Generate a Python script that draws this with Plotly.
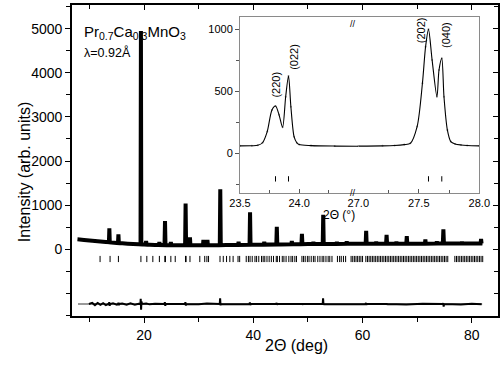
import plotly.graph_objects as go

# ---------------- data ----------------
# observed pattern, main panel (2theta in deg, intensity)
obs_x = [7.8, 9, 10, 11, 12, 13, 13.56, 13.64, 13.72, 14, 15, 15.22, 15.3, 15.38, 16, 17, 18, 19, 19.35, 19.42, 19.49,
         20, 20.29, 20.37, 20.45, 21, 22, 22.72, 22.8, 22.88, 23.74, 23.83, 23.92, 24, 24.82, 24.9, 24.98, 26, 27.51,
         27.6, 27.69, 28.32, 28.4, 28.48, 30, 30.78, 30.86, 30.94, 31.52, 31.6, 31.68, 33.86, 33.95, 34.04, 35, 37.22,
         37.3, 37.38, 39.31, 39.4, 39.49, 40, 41.92, 42.0, 42.08, 44.21, 44.3, 44.39, 45, 46.97, 47.05, 47.13, 48.81,
         48.9, 48.99, 50, 50.92, 51.0, 51.08, 52.71, 52.8, 52.89, 55, 55.22, 55.3, 55.38, 57.02, 57.1, 57.18, 60, 60.57,
         60.66, 60.75, 62.42, 62.5, 62.58, 64.31, 64.4, 64.49, 66.12, 66.2, 66.28, 68.01, 68.1, 68.19, 69.92, 70.0,
         70.08, 71.42, 71.5, 71.58, 73.52, 73.6, 73.68, 74.7, 74.8, 74.9, 76.42, 76.5, 76.58, 78.12, 78.2, 78.28,
         79.92, 80.0, 80.08, 81.61, 81.7, 81.79, 81.9]
obs_y = [225, 212, 200, 188, 176, 165, 160, 476, 158, 155, 145, 143, 340, 141, 136, 128, 120, 113, 111, 4950, 110,
         107, 105, 190, 104, 102, 98, 97, 165, 97, 95, 640, 94, 94, 93, 165, 93, 91, 90,
         1040, 90, 90, 270, 90, 90, 90, 210, 91, 91, 210, 91, 93, 1360, 94, 95, 99,
         170, 100, 102, 840, 102, 102, 106, 170, 106, 110, 510, 110, 110, 113, 190, 113, 115,
         350, 115, 118, 118, 170, 118, 120, 780, 120, 122, 122, 170, 122, 123, 180, 123, 125, 125,
         420, 125, 126, 170, 126, 127, 325, 127, 127, 170, 127, 128, 300, 128, 128, 160,
         128, 128, 225, 128, 129, 180, 129, 129, 450, 129, 129, 160, 129, 130, 170, 130,
         130, 160, 130, 130, 235, 130, 130]

# difference curve (obs - calc, offset)
diff_offset = -1240
diff_x = [9.9, 10.5, 11, 11.5, 12, 12.5, 13, 13.55, 13.62, 13.7, 13.8, 14.3, 15, 15.25, 15.3, 15.38, 15.45, 16, 16.8,
          17.5, 18.3, 19.0, 19.33, 19.38, 19.45, 19.52, 19.6, 20.4, 21, 22, 23.75, 23.8, 23.88, 23.95, 27.5, 27.56,
          27.65, 27.72, 30, 31.5, 33.85, 33.92, 34.0, 34.07, 37, 39.3, 39.37, 39.45, 39.52, 44.2, 44.27, 44.35, 44.42,
          48.85, 48.9, 48.97, 49.05, 52.7, 52.77, 52.85, 52.93, 56, 60.55, 60.62, 60.7, 60.77, 64.35, 64.4, 64.47,
          64.55, 68, 71, 74.7, 74.77, 74.85, 74.93, 78, 80, 81.8]
diff_y = [-1240, -1215, -1265, -1215, -1260, -1220, -1265, -1235, -1200, -1280, -1240, -1225, -1255, -1240, -1210,
          -1270, -1240, -1230, -1255, -1225, -1255, -1235, -1240, -1120, -1370, -1180, -1240, -1230, -1248, -1235,
          -1240, -1200, -1280, -1240, -1240, -1200, -1275, -1240, -1245, -1230, -1240, -1110, -1270, -1240, -1245,
          -1240, -1205, -1265, -1240, -1240, -1215, -1260, -1240, -1240, -1222, -1255, -1240, -1240, -1110, -1260,
          -1240, -1245, -1240, -1215, -1260, -1240, -1240, -1225, -1255, -1240, -1250, -1235, -1240, -1220, -1300,
          -1240, -1250, -1235, -1245]
diff_range = [7.9, 81.9]

# Bragg reflection positions
bragg_pos = [11.94, 13.77, 15.3, 19.42, 20.5, 21.6, 22.8, 23.8, 23.91, 24.9, 25.7, 27.58, 27.69, 28.4, 30.2, 31.1,
             31.5, 31.8, 33.9, 34.5, 35.1, 35.7, 36.3, 37.2, 37.5, 38.7, 39.1, 39.4, 39.8, 40.3, 40.6, 41.0, 41.5,
             41.8, 42.1, 42.5, 42.9, 43.3, 43.7, 44.2, 44.4, 44.8, 45.3, 45.6, 46.0, 46.5, 46.9, 47.2, 47.6, 47.9,
             48.9, 49.2, 49.5, 49.9, 50.2, 50.6, 51.0, 51.3, 51.8, 52.2, 52.6, 52.9, 53.3, 53.7, 54.0, 54.4, 55.4,
             55.8, 56.1, 56.5, 56.9, 57.9, 58.2, 58.5, 58.8, 59.1, 59.4, 59.7, 60.0, 60.6, 60.9, 61.2, 61.5, 61.8,
             62.1, 62.4, 62.7, 63.0, 63.3, 63.6, 63.9, 64.2, 64.5, 64.8, 65.1, 65.4, 65.7, 66.0, 66.3, 66.6, 66.9,
             67.2, 67.5, 67.8, 68.1, 68.4, 68.7, 69.0, 69.3, 69.6, 69.9, 70.2, 70.5, 70.8, 71.1, 71.4, 71.7, 72.0,
             72.3, 72.6, 72.9, 73.2, 73.5, 73.8, 74.1, 74.4, 74.7, 75.0, 75.3, 75.6, 76.9, 77.2, 77.5, 77.8, 78.1,
             78.4, 78.7, 79.0, 79.3, 79.6, 79.9, 80.2, 80.5, 80.8, 81.1, 81.4, 81.7, 82.0]
bragg_span = [-150, -290]

# inset: two 2theta windows
ins1_x = [23.50, 23.60, 23.65, 23.69, 23.73, 23.77, 23.80, 23.83, 23.86, 23.886, 23.91, 23.93, 23.957, 23.98, 24.0,
          24.1, 24.3, 24.5]
ins1_y = [60, 61, 64, 85, 175, 350, 381, 310, 210, 456, 623, 375, 134, 85, 70, 62, 58, 57]
ins2_x = [27.0, 27.2, 27.3, 27.38, 27.43, 27.486, 27.53, 27.556, 27.58, 27.61, 27.65, 27.667, 27.69, 27.708, 27.736,
          27.764, 27.8, 27.85, 27.9, 28.0]
ins2_y = [58, 60, 63, 70, 80, 215, 565, 860, 1000, 752, 456, 672, 766, 456, 188, 94, 75, 67, 63, 60]
ins_bragg = [23.80, 23.91, 27.58, 27.69]
ins_bragg_span = [-185, -228]
ins_labels = ["(220)", "(022)", "(202)", "(040)"]
ins_label_x = [23.805, 23.95, 27.515, 27.72]
ins_label_y = [555, 780, 990, 958]

# axis ticks
main_x_range = [6.8, 84.8]
main_y_range = [-1512, 5537]
main_y_ticks = [0, 1000, 2000, 3000, 4000, 5000]
main_x_ticks = [20, 40, 60, 80]
ins_y_range = [-318, 1102]
ins1_range = [23.5, 24.5]
ins2_range = [27.0, 28.0]

FONT = "Arial, Liberation Sans, sans-serif"

def segs(pos, span):
    xs, ys = [], []
    for p in pos:
        xs += [p, p, None]
        ys += [span[0], span[1], None]
    return xs, ys

fig = go.Figure()

# main panel
bx, by = segs(bragg_pos, bragg_span)
fig.add_trace(go.Scatter(x=bx, y=by, mode="lines", line=dict(color="black", width=1), hoverinfo="skip"))
fig.add_trace(go.Scatter(x=diff_range, y=[diff_offset, diff_offset], mode="lines",
                         line=dict(color="black", width=0.8)))
fig.add_trace(go.Scatter(x=diff_x, y=diff_y, mode="lines", line=dict(color="black", width=2, simplify=False)))
fig.add_trace(go.Scatter(x=obs_x, y=obs_y, mode="lines", line=dict(color="black", width=4, simplify=False)))
# mirror-tick helper axes
fig.add_trace(go.Scatter(x=[None], y=[None], xaxis="x5", yaxis="y", showlegend=False))
fig.add_trace(go.Scatter(x=[None], y=[None], xaxis="x", yaxis="y5", showlegend=False))

# inset
fig.add_trace(go.Scatter(x=ins1_x, y=ins1_y, xaxis="x3", yaxis="y3", mode="markers",
                         marker=dict(color="#999", size=2)))
fig.add_trace(go.Scatter(x=ins1_x, y=ins1_y, xaxis="x3", yaxis="y3", mode="lines",
                         line=dict(color="black", width=1.1, shape="spline", smoothing=0.8)))
fig.add_trace(go.Scatter(x=ins2_x, y=ins2_y, xaxis="x4", yaxis="y4", mode="markers",
                         marker=dict(color="#999", size=2)))
fig.add_trace(go.Scatter(x=ins2_x, y=ins2_y, xaxis="x4", yaxis="y4", mode="lines",
                         line=dict(color="black", width=1.1, shape="spline", smoothing=0.8)))
ib1x, ib1y = segs([p for p in ins_bragg if p < 25], ins_bragg_span)
ib2x, ib2y = segs([p for p in ins_bragg if p > 25], ins_bragg_span)
fig.add_trace(go.Scatter(x=ib1x, y=ib1y, xaxis="x3", yaxis="y3", mode="lines", line=dict(color="black", width=1)))
fig.add_trace(go.Scatter(x=ib2x, y=ib2y, xaxis="x4", yaxis="y4", mode="lines", line=dict(color="black", width=1)))

tickfont = dict(family=FONT, size=14, color="black")
insfont = dict(family=FONT, size=11, color="black")

ins_xdom1 = [0.3944, 0.6721]
ins_xdom2 = [0.6721, 0.9561]
ins_ydom = [0.3965, 0.9624]

fig.update_layout(
    width=501, height=365,
    margin=dict(l=72, r=3, t=5, b=49, autoexpand=False),
    paper_bgcolor="white", plot_bgcolor="white",
    showlegend=False,
    xaxis=dict(range=main_x_range, tickvals=main_x_ticks, ticks="outside", ticklen=5, tickwidth=1.3,
               tickcolor="black", showline=True, linecolor="black", linewidth=1.6, mirror=True,
               showgrid=False, zeroline=False, tickfont=tickfont, automargin=False,
               minor=dict(dtick=10, tick0=0, ticks="outside", ticklen=4, tickwidth=1.3, tickcolor="black",
                          showgrid=False)),
    yaxis=dict(range=main_y_range, tickvals=main_y_ticks, ticks="outside", ticklen=5,
               tickwidth=1.3, tickcolor="black", showline=True, linecolor="black", linewidth=1.6, mirror=True,
               showgrid=False, zeroline=False, tickfont=tickfont, automargin=False,
               minor=dict(dtick=500, tick0=0, ticks="outside", ticklen=4.5, tickwidth=1.3, tickcolor="black",
                          showgrid=False)),
    xaxis5=dict(overlaying="x", side="top", anchor="y", range=main_x_range, tickvals=main_x_ticks,
                ticks="inside", ticklen=5, tickwidth=1.3, tickcolor="black", showticklabels=False,
                showline=False, showgrid=False, zeroline=False, automargin=False,
                minor=dict(dtick=10, tick0=0, ticks="inside", ticklen=4, tickwidth=1.3, tickcolor="black",
                           showgrid=False)),
    yaxis5=dict(overlaying="y", side="right", anchor="x", range=main_y_range, tickvals=main_y_ticks,
                ticks="inside", ticklen=5, tickwidth=1.3, tickcolor="black", showticklabels=False,
                showline=False, showgrid=False, zeroline=False, automargin=False,
                minor=dict(dtick=500, tick0=0, ticks="inside", ticklen=4.5, tickwidth=1.3, tickcolor="black",
                           showgrid=False)),
    xaxis3=dict(domain=ins_xdom1, anchor="y3", range=ins1_range, tickvals=[23.5, 24.0], ticktext=["23.5", "24.0"],
                ticks="inside", ticklen=4, tickcolor="#555", showline=True, linecolor="#8a8a8a", linewidth=1,
                mirror=True, showgrid=False, zeroline=False, tickfont=insfont, automargin=False,
                minor=dict(dtick=0.25, tick0=23.5, ticks="inside", ticklen=3, tickcolor="#555", showgrid=False)),
    xaxis4=dict(domain=ins_xdom2, anchor="y4", range=ins2_range, tickvals=[27.0, 27.5, 28.0],
                ticktext=["27.0", "27.5", "28.0"], ticks="inside", ticklen=4, tickcolor="#555", showline=True,
                linecolor="#8a8a8a", linewidth=1, mirror=True, showgrid=False, zeroline=False, tickfont=insfont,
                automargin=False,
                minor=dict(dtick=0.25, tick0=27.0, ticks="inside", ticklen=3, tickcolor="#555", showgrid=False)),
    yaxis3=dict(domain=ins_ydom, anchor="x3", range=ins_y_range, tickvals=[0, 500, 1000], ticks="outside",
                ticklen=4, tickcolor="#555", showline=True, linecolor="#8a8a8a", linewidth=1, showgrid=False,
                zeroline=False, tickfont=insfont, automargin=False,
                minor=dict(dtick=250, tick0=0, ticks="outside", ticklen=3, tickcolor="#555", showgrid=False)),
    yaxis4=dict(domain=ins_ydom, anchor="x4", side="right", range=ins_y_range, showticklabels=False, ticks="",
                showline=True, linecolor="#8a8a8a", linewidth=1, showgrid=False, zeroline=False, automargin=False),
)

ann = [
    dict(text="Intensity (arb. units)", x=-0.1362, y=0.464, xref="paper", yref="paper", textangle=-90,
         showarrow=False, font=dict(family=FONT, size=16, color="black")),
    dict(text="2Θ (deg)", x=0.527, y=-0.1286, xref="paper", yref="paper", showarrow=False,
         font=dict(family=FONT, size=16, color="black")),
    dict(text="Pr<sub>0.7</sub>Ca<sub>0.3</sub>MnO<sub>3</sub>", x=0.0235, y=0.9486, xref="paper", yref="paper",
         xanchor="left", showarrow=False, font=dict(family=FONT, size=15, color="black")),
    dict(text="λ=0.92Å", x=0.0235, y=0.878, xref="paper", yref="paper", xanchor="left", showarrow=False,
         font=dict(family=FONT, size=12.5, color="black")),
    dict(text="2Θ (°)", x=0.670, y=0.2958, xref="paper", yref="paper", showarrow=False,
         font=dict(family=FONT, size=12, color="black")),
    dict(text="//", x=0.672, y=0.9624, xref="paper", yref="paper", showarrow=False,
         font=dict(family=FONT, size=9, color="black")),
    dict(text="//", x=0.672, y=0.3965, xref="paper", yref="paper", showarrow=False,
         font=dict(family=FONT, size=9, color="black")),
]
for lab, lx, ly in zip(ins_labels, ins_label_x, ins_label_y):
    ax = "x3" if lx < 25 else "x4"
    ay = "y3" if lx < 25 else "y4"
    ann.append(dict(text=lab, x=lx, y=ly, xref=ax, yref=ay, textangle=-90, showarrow=False,
                    font=dict(family=FONT, size=11, color="black")))
fig.update_layout(annotations=ann)

fig.write_html("out.html", config={"displayModeBar": False},
               post_script="document.body.style.margin='0';document.body.style.padding='0';")
